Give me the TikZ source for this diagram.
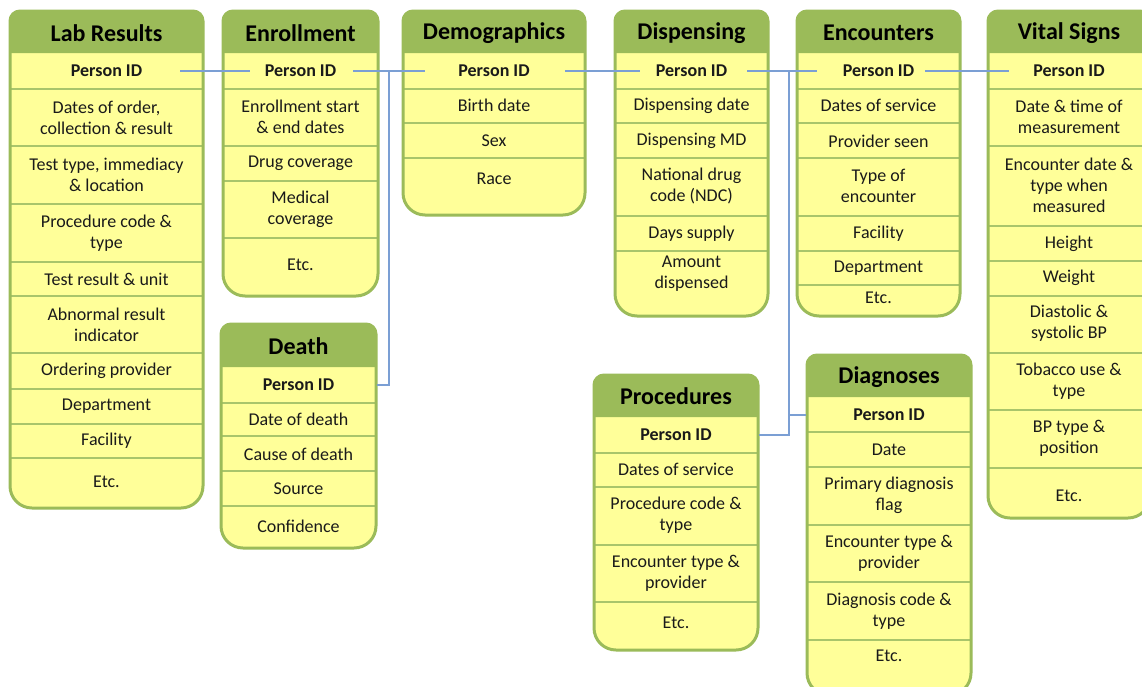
\documentclass[tikz,border=0pt]{standalone}
\usepackage{fontspec}
\setmainfont{Carlito}
\definecolor{hdr}{HTML}{9BBB59}
\definecolor{bodyc}{HTML}{FFFF99}
\definecolor{sepc}{HTML}{A9C56B}
\definecolor{conn}{HTML}{7B9FD4}
\definecolor{txt}{HTML}{1A1A1A}
\tikzset{
  cell/.style={align=center, font=\fontsize{18}{21}\selectfont, inner sep=0pt, text=txt},
  pid/.style={cell, font=\fontsize{18}{21}\selectfont\bfseries},
  ttl/.style={font=\fontsize{24}{27}\selectfont\bfseries, inner sep=0pt, text=black},
  link/.style={draw=conn, line width=1.4pt},
  outl/.style={draw=hdr, line width=3pt},
  sepl/.style={draw=sepc, line width=1.6pt},
}
% #1 x1, #2 x2, #3 top, #4 header bottom, #5 bottom
\newcommand\dbbox[5]{%
  \fill[bodyc] (#1,#4) -- (#1,#5-22) arc[start angle=180,end angle=90,radius=22]
     -- (#2-22,#5) arc[start angle=90,end angle=0,radius=22] -- (#2,#4) -- cycle;
  \fill[hdr] (#1,#4) -- (#1,#3+10) arc[start angle=180,end angle=270,radius=10]
     -- (#2-10,#3) arc[start angle=270,end angle=360,radius=10] -- (#2,#4) -- cycle;
}
\newcommand\dboutline[5]{%
  \draw[outl] (#1,#3+10) arc[start angle=180,end angle=270,radius=10]
     -- (#2-10,#3) arc[start angle=270,end angle=360,radius=10]
     -- (#2,#5-22) arc[start angle=0,end angle=90,radius=22]
     -- (#1+22,#5) arc[start angle=90,end angle=180,radius=22] -- cycle;
}
\begin{document}
\begin{tikzpicture}[x=1pt,y=-1pt]
\useasboundingbox (0,0) rectangle (1142,686);
\fill[white] (0,0) rectangle (1142,686);

% ---------- Lab Results ----------
\dbbox{10}{203}{11}{53}{508}
\foreach \yy in {89,146,204,262,296,353,389,424,458} \draw[sepl] (10,\yy) -- (203,\yy);
\dboutline{10}{203}{11}{53}{508}
\node[ttl] (lab-t) at (106.5,33) {Lab Results};
\node[pid] (lab-1) at (106.5,71) {Person ID};
\node[cell] (lab-2) at (106.5,117.5) {Dates of order,\\collection \& result};
\node[cell] (lab-3) at (106.5,175) {Test type, immediacy\\\& location};
\node[cell] (lab-4) at (106.5,233) {Procedure code \&\\type};
\node[cell] (lab-5) at (106.5,279) {Test result \& unit};
\node[cell] (lab-6) at (106.5,324.5) {Abnormal result\\indicator};
\node[cell] (lab-7) at (106.5,371) {Ordering provider};
\node[cell] (lab-8) at (106.5,406.5) {Department};
\node[cell] (lab-9) at (106.5,441) {Facility};
\node[cell] (lab-10) at (106.5,482) {Etc.};

% ---------- Enrollment ----------
\dbbox{223}{378}{11}{53}{296}
\foreach \yy in {89,146,181,238} \draw[sepl] (223,\yy) -- (378,\yy);
\dboutline{223}{378}{11}{53}{296}
\node[ttl] (enr-t) at (300.5,33) {Enrollment};
\node[pid] (enr-1) at (300.5,71) {Person ID};
\node[cell] (enr-2) at (300.5,117) {Enrollment start\\\& end dates};
\node[cell] (enr-3) at (300.5,163.5) {Drug coverage};
\node[cell] (enr-4) at (300.5,209.5) {Medical\\coverage};
\node[cell] (enr-5) at (300.5,265) {Etc.};

% ---------- Demographics ----------
\dbbox{403}{585}{11}{53}{215}
\foreach \yy in {89,123,158} \draw[sepl] (403,\yy) -- (585,\yy);
\dboutline{403}{585}{11}{53}{215}
\node[ttl] (dem-t) at (494,33) {Demographics};
\node[pid] (dem-1) at (494,71) {Person ID};
\node[cell] (dem-2) at (494,105.5) {Birth date};
\node[cell] (dem-3) at (494,141) {Sex};
\node[cell] (dem-4) at (494,179) {Race};

% ---------- Dispensing ----------
\dbbox{615}{768}{11}{53}{316}
\foreach \yy in {89,123,158,216,251} \draw[sepl] (615,\yy) -- (768,\yy);
\dboutline{615}{768}{11}{53}{316}
\node[ttl] (dis-t) at (691.5,33) {Dispensing};
\node[pid] (dis-1) at (691.5,71) {Person ID};
\node[cell] (dis-2) at (691.5,105.5) {Dispensing date};
\node[cell] (dis-3) at (691.5,141) {Dispensing MD};
\node[cell] (dis-4) at (691.5,186) {National drug\\code (NDC)};
\node[cell] (dis-5) at (691.5,233.5) {Days supply};
\node[cell] (dis-6) at (691.5,274) {Amount\\dispensed};

% ---------- Encounters ----------
\dbbox{797}{960}{11}{53}{316}
\foreach \yy in {89,123,158,216,251,285} \draw[sepl] (797,\yy) -- (960,\yy);
\dboutline{797}{960}{11}{53}{316}
\node[ttl] (enc-t) at (878.5,33) {Encounters};
\node[pid] (enc-1) at (878.5,71) {Person ID};
\node[cell] (enc-2) at (878.5,105.5) {Dates of service};
\node[cell] (enc-3) at (878.5,141) {Provider seen};
\node[cell] (enc-4) at (878.5,186) {Type of\\encounter};
\node[cell] (enc-5) at (878.5,233.5) {Facility};
\node[cell] (enc-6) at (878.5,268) {Department};
\node[cell] (enc-7) at (878.5,298) {Etc.};

% ---------- Vital Signs ----------
\dbbox{988}{1150}{11}{53}{518}
\foreach \yy in {89,146,226,261,296,353,410,468} \draw[sepl] (988,\yy) -- (1150,\yy);
\dboutline{988}{1150}{11}{53}{518}
\node[ttl] (vit-t) at (1069,33) {Vital Signs};
\node[pid] (vit-1) at (1069,71) {Person ID};
\node[cell] (vit-2) at (1069,117) {Date \& time of\\measurement};
\node[cell] (vit-3) at (1069,185) {Encounter date \&\\type when\\measured};
\node[cell] (vit-4) at (1069,243.5) {Height};
\node[cell] (vit-5) at (1069,278) {Weight};
\node[cell] (vit-6) at (1069,323) {Diastolic \&\\systolic BP};
\node[cell] (vit-7) at (1069,381) {Tobacco use \&\\type};
\node[cell] (vit-8) at (1069,438) {BP type \&\\position};
\node[cell] (vit-9) at (1069,496) {Etc.};

% ---------- Death ----------
\dbbox{221}{376}{324}{367}{548}
\foreach \yy in {403,436,471,506} \draw[sepl] (221,\yy) -- (376,\yy);
\dboutline{221}{376}{324}{367}{548}
\node[ttl] (dea-t) at (298.5,346) {Death};
\node[pid] (dea-1) at (298.5,384.5) {Person ID};
\node[cell] (dea-2) at (298.5,419) {Date of death};
\node[cell] (dea-3) at (298.5,454) {Cause of death};
\node[cell] (dea-4) at (298.5,488.5) {Source};
\node[cell] (dea-5) at (298.5,526) {Confidence};

% ---------- Procedures ----------
\dbbox{594}{758}{375}{417}{650}
\foreach \yy in {453,487,545,602} \draw[sepl] (594,\yy) -- (758,\yy);
\dboutline{594}{758}{375}{417}{650}
\node[ttl] (pro-t) at (676,396) {Procedures};
\node[pid] (pro-1) at (676,435) {Person ID};
\node[cell] (pro-2) at (676,469.5) {Dates of service};
\node[cell] (pro-3) at (676,515.5) {Procedure code \&\\type};
\node[cell] (pro-4) at (676,573) {Encounter type \&\\provider};
\node[cell] (pro-5) at (676,623) {Etc.};

% ---------- Diagnoses ----------
\dbbox{807}{971}{355}{397}{695}
\foreach \yy in {432,467,525,582,640} \draw[sepl] (807,\yy) -- (971,\yy);
\dboutline{807}{971}{355}{397}{695}
\node[ttl] (dia-t) at (889,377) {Diagnoses};
\node[pid] (dia-1) at (889,414.5) {Person ID};
\node[cell] (dia-2) at (889,449.5) {Date};
\node[cell] (dia-3) at (889,495.5) {Primary diagnosis\\flag};
\node[cell] (dia-4) at (889,553.5) {Encounter type \&\\provider};
\node[cell] (dia-5) at (889,611) {Diagnosis code \&\\type};
\node[cell] (dia-6) at (889,656) {Etc.};

% ---------- connectors ----------
\coordinate (lab-r) at (180,71);
\coordinate (enr-l) at (250,71);
\coordinate (enr-r) at (353,71);
\coordinate (dem-l) at (425,71);
\coordinate (j1) at (389,71);
\coordinate (dea-r) at (377,385);
\coordinate (dem-r) at (565,71);
\coordinate (dis-l) at (640,71);
\coordinate (dis-r) at (747,71);
\coordinate (enc-l) at (817,71);
\coordinate (j2) at (789,71);
\coordinate (j3) at (789,415);
\coordinate (pro-r) at (759,435);
\coordinate (dia-l) at (806,415);
\coordinate (enc-r) at (925,71);
\coordinate (vit-l) at (1009,71);

\draw[link] (lab-r) -- (enr-l);
\draw[link] (enr-r) -- (dem-l);
\draw[link] (j1) |- (dea-r);
\draw[link] (dem-r) -- (dis-l);
\draw[link] (dis-r) -- (enc-l);
\draw[link] (j2) |- (pro-r);
\draw[link] (j3) -- (dia-l);
\draw[link] (enc-r) -- (vit-l);
\end{tikzpicture}
\end{document}
